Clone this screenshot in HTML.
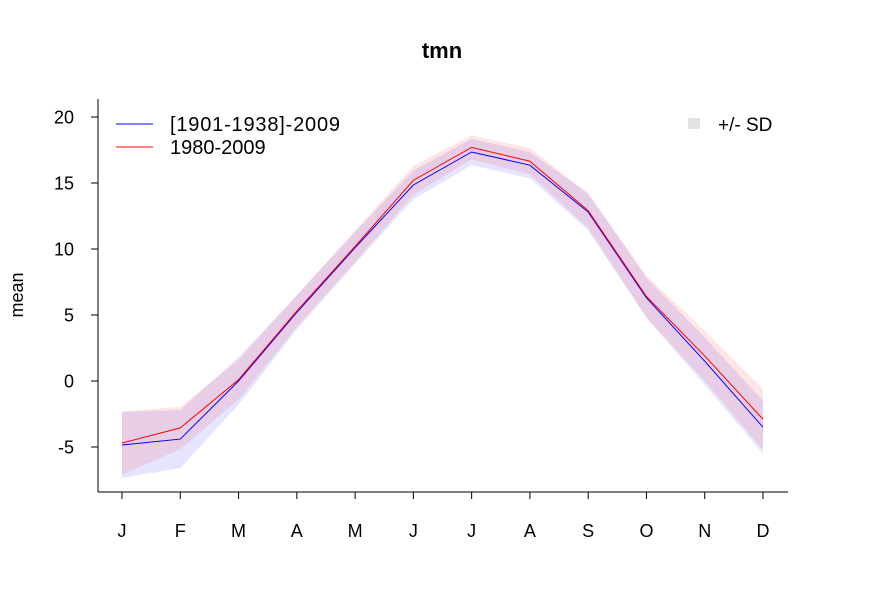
<!DOCTYPE html>
<html><head><meta charset="utf-8"><style>
body{margin:0;background:#fff}
svg text{font-family:"Liberation Sans",Arial,sans-serif}
</style></head><body>
<svg id="c" width="885" height="590" xmlns="http://www.w3.org/2000/svg">
<rect width="885" height="590" fill="#fff"/>
<text x="442" y="58" font-size="22" font-weight="bold" text-anchor="middle">tmn</text>
<text x="0" y="0" font-size="18" text-anchor="middle" transform="translate(23,295) rotate(-90)">mean</text>
<g id="bands"></g><g id="lines"></g><g id="axes"></g>
<g>
<line x1="116" y1="124" x2="153" y2="124" stroke="#00f"/>
<text x="170" y="131" font-size="20" textLength="170">[1901-1938]-2009</text>
<line x1="116" y1="147" x2="153" y2="147" stroke="#f00"/>
<text x="170" y="154" font-size="20">1980-2009</text>
<rect x="688" y="118" width="12" height="11" fill="#e3e3e3"/>
<text x="718" y="131" font-size="19">+/- SD</text>
</g>
</svg>
<script>
const months=["J","F","M","A","M","J","J","A","S","O","N","D"];
const blueMean=[-4.85,-4.4,0,5.2,10.1,14.85,17.35,16.35,12.8,6.3,1.5,-3.5];
const blueSD=[2.5,2.2,1.8,1.3,1.2,1.1,1.0,1.0,1.4,1.5,1.8,2.0];
const redMean=[-4.7,-3.55,0.1,5.3,10.2,15.2,17.7,16.65,12.9,6.4,1.9,-2.9];
const redSD=[2.4,1.6,1.5,1.2,1.2,1.1,0.9,1.0,1.3,1.6,1.9,2.3];
const yTicks=[-5,0,5,10,15,20];
const NS="http://www.w3.org/2000/svg";
const X=i=>122+i*(763-122)/11;
const Y=v=>381-13.2*v;
function mk(t,a,p){const e=document.createElementNS(NS,t);for(const k in a)e.setAttribute(k,a[k]);p.appendChild(e);return e;}
const bands=document.getElementById('bands'),lines=document.getElementById('lines'),axes=document.getElementById('axes');
function band(m,s,col,name){
 let up=m.map((v,i)=>X(i)+","+Y(v+s[i])),lo=m.map((v,i)=>X(i)+","+Y(v-s[i])).reverse();
 const p=mk('polygon',{points:up.concat(lo).join(' '),fill:col,stroke:'none'},bands);
 
 
}
band(blueMean,blueSD,'rgba(0,0,255,0.1)','sd-band-1901-1938');
band(redMean,redSD,'rgba(255,0,0,0.1)','sd-band-1980-2009');
function line(m,col,name){
 const p=mk('polyline',{points:m.map((v,i)=>X(i)+","+Y(v)).join(' '),fill:'none',stroke:col,'stroke-width':1},lines);
 
 
}
line(blueMean,'#00f','line-1901-1938');
line(redMean,'#f00','line-1980-2009');
const ya=mk('line',{x1:98,y1:99,x2:98,y2:492,stroke:'#000'},axes);


const xa=mk('line',{x1:98,y1:492,x2:788,y2:492,stroke:'#000'},axes);


yTicks.forEach(v=>{
 mk('line',{x1:91,y1:Y(v),x2:98,y2:Y(v),stroke:'#000'},axes);
 const t=mk('text',{x:74,y:Y(v)+6.5,'font-size':18,'text-anchor':'end'},axes);t.textContent=v;
 
 
});
months.forEach((m,i)=>{
 mk('line',{x1:X(i),y1:492,x2:X(i),y2:499,stroke:'#000'},axes);
 const t=mk('text',{x:X(i),y:537,'font-size':18,'text-anchor':'middle'},axes);t.textContent=m;
 
 
});
</script>
</body></html>
